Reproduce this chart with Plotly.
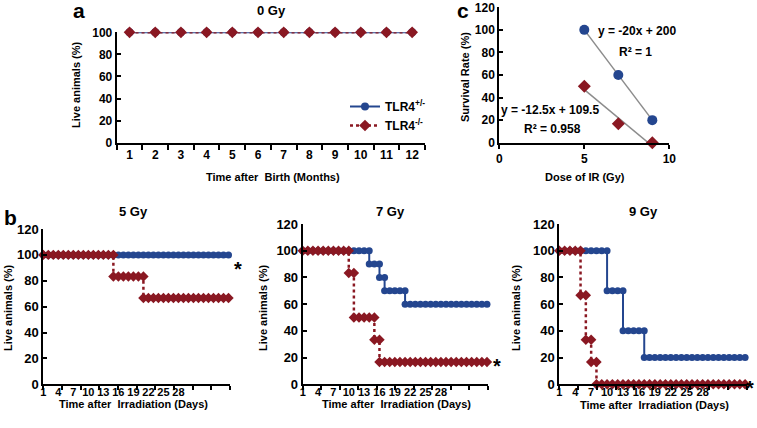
import plotly.graph_objects as go

BLUE = '#24468f'
RED = '#8a1822'
GRAY = '#8c8c8c'
FONT = 'Liberation Sans, Arial, sans-serif'
W, H = 757, 428

# ---- panel a: 0 Gy, live animals (%) by month after birth
months = ['1', '2', '3', '4', '5', '6', '7', '8', '9', '10', '11', '12']
live_0gy_het = [100, 100, 100, 100, 100, 100, 100, 100, 100, 100, 100, 100]
live_0gy_ko = [100, 100, 100, 100, 100, 100, 100, 100, 100, 100, 100, 100]

# ---- panel b: survival curves after irradiation (days, duplicated day at each drop)
day_ticks = [1, 4, 7, 10, 13, 16, 19, 22, 25, 28]

gy5_het_days = [1, 2, 3, 4, 5, 6, 7, 8, 9, 10, 11, 12, 13, 14, 15, 16, 17, 18, 19,
                20, 21, 22, 23, 24, 25, 26, 27, 28, 29, 30, 31, 32, 33, 34, 35, 36, 37, 38]
gy5_het_live = [100, 100, 100, 100, 100, 100, 100, 100, 100, 100, 100, 100, 100,
                100, 100, 100, 100, 100, 100, 100, 100, 100, 100, 100, 100, 100,
                100, 100, 100, 100, 100, 100, 100, 100, 100, 100, 100, 100]
gy5_ko_days = [1, 2, 3, 4, 5, 6, 7, 8, 9, 10, 11, 12, 13, 14, 15,
               15, 16, 17, 18, 19, 20, 21,
               21, 22, 23, 24, 25, 26, 27, 28, 29, 30, 31, 32, 33, 34, 35, 36, 37, 38]
gy5_ko_live = [100, 100, 100, 100, 100, 100, 100, 100, 100, 100, 100, 100, 100, 100, 100,
               83.3, 83.3, 83.3, 83.3, 83.3, 83.3, 83.3,
               66.7, 66.7, 66.7, 66.7, 66.7, 66.7, 66.7, 66.7, 66.7, 66.7, 66.7, 66.7,
               66.7, 66.7, 66.7, 66.7, 66.7, 66.7]

gy7_het_days = [1, 2, 3, 4, 5, 6, 7, 8, 9, 10, 11, 12, 13, 14,
                14, 15, 16,
                16, 17,
                17, 18, 19, 20, 21,
                21, 22, 23, 24, 25, 26, 27, 28, 29, 30, 31, 32, 33, 34, 35, 36, 37]
gy7_het_live = [100, 100, 100, 100, 100, 100, 100, 100, 100, 100, 100, 100, 100, 100,
                90, 90, 90,
                80, 80,
                70, 70, 70, 70, 70,
                60, 60, 60, 60, 60, 60, 60, 60, 60, 60, 60, 60, 60, 60, 60, 60, 60]
gy7_ko_days = [1, 2, 3, 4, 5, 6, 7, 8, 9, 10,
               10, 11,
               11, 12, 13, 14, 15,
               15, 16,
               16, 17, 18, 19, 20, 21, 22, 23, 24, 25, 26, 27, 28, 29, 30, 31, 32, 33,
               34, 35, 36, 37]
gy7_ko_live = [100, 100, 100, 100, 100, 100, 100, 100, 100, 100,
               83.3, 83.3,
               50, 50, 50, 50, 50,
               33.3, 33.3,
               16.7, 16.7, 16.7, 16.7, 16.7, 16.7, 16.7, 16.7, 16.7, 16.7, 16.7, 16.7,
               16.7, 16.7, 16.7, 16.7, 16.7, 16.7, 16.7, 16.7, 16.7, 16.7]

gy9_het_days = [1, 2, 3, 4, 5, 6, 7, 8, 9, 10,
                10, 11, 12, 13,
                13, 14, 15, 16, 17,
                17, 18, 19, 20, 21, 22, 23, 24, 25, 26, 27, 28, 29, 30, 31, 32, 33,
                34, 35, 36]
gy9_het_live = [100, 100, 100, 100, 100, 100, 100, 100, 100, 100,
                70, 70, 70, 70,
                40, 40, 40, 40, 40,
                20, 20, 20, 20, 20, 20, 20, 20, 20, 20, 20, 20, 20, 20, 20, 20, 20,
                20, 20, 20]
gy9_ko_days = [1, 2, 3, 4, 5,
               5, 6,
               6, 7,
               7, 8,
               8, 9, 10, 11, 12, 13, 14, 15, 16, 17, 18, 19, 20, 21, 22, 23, 24, 25,
               26, 27, 28, 29, 30, 31, 32, 33, 34, 35, 36]
gy9_ko_live = [100, 100, 100, 100, 100,
               66.7, 66.7,
               33.3, 33.3,
               16.7, 16.7,
               0, 0, 0, 0, 0, 0, 0, 0, 0, 0, 0, 0, 0, 0, 0, 0, 0, 0,
               0, 0, 0, 0, 0, 0, 0, 0, 0, 0, 0]

# ---- panel c: survival rate vs dose
dose = [5, 7, 9]
rate_het = [100, 60, 20]
rate_ko = [50, 16.7, 0]
fit_het = (-20, 200)      # y = -20x + 200
fit_ko = (-12.5, 109.5)   # y = -12.5x + 109.5


def px_x(px):
    return px / W


def px_y(py):
    return 1 - py / H


fig = go.Figure()


def het_trace(x, y, xa, ya, size=7, legend=False):
    return go.Scatter(x=x, y=y, xaxis=xa, yaxis=ya, mode='lines+markers',
                      name='TLR4<sup>+/-</sup>', showlegend=legend, cliponaxis=False,
                      line=dict(color=BLUE, width=2),
                      marker=dict(symbol='circle', size=size, color=BLUE))


def ko_trace(x, y, xa, ya, size=8, legend=False):
    return go.Scatter(x=x, y=y, xaxis=xa, yaxis=ya, mode='lines+markers',
                      name='TLR4<sup>-/-</sup>', showlegend=legend, cliponaxis=False,
                      line=dict(color=RED, width=2.5, dash='dot'),
                      marker=dict(symbol='diamond', size=size, color=RED))


# panel a
fig.add_trace(het_trace(months, live_0gy_het, 'x', 'y', size=8, legend=True))
fig.add_trace(ko_trace(months, live_0gy_ko, 'x', 'y', size=9, legend=True))

# panel b
fig.add_trace(het_trace(gy5_het_days, gy5_het_live, 'x3', 'y3'))
fig.add_trace(ko_trace(gy5_ko_days, gy5_ko_live, 'x3', 'y3'))
fig.add_trace(het_trace(gy7_het_days, gy7_het_live, 'x4', 'y4'))
fig.add_trace(ko_trace(gy7_ko_days, gy7_ko_live, 'x4', 'y4'))
fig.add_trace(het_trace(gy9_het_days, gy9_het_live, 'x5', 'y5'))
fig.add_trace(ko_trace(gy9_ko_days, gy9_ko_live, 'x5', 'y5'))

# panel c: trendlines then points
for (m, b) in (fit_het, fit_ko):
    xs = [dose[0], dose[-1]]
    fig.add_trace(go.Scatter(x=xs, y=[m * v + b for v in xs], xaxis='x2', yaxis='y2',
                             mode='lines', showlegend=False,
                             line=dict(color=GRAY, width=1.5)))
fig.add_trace(go.Scatter(x=dose, y=rate_het, xaxis='x2', yaxis='y2', mode='markers',
                         showlegend=False, cliponaxis=False,
                         marker=dict(symbol='circle', size=10, color=BLUE)))
fig.add_trace(go.Scatter(x=dose, y=rate_ko, xaxis='x2', yaxis='y2', mode='markers',
                         showlegend=False, cliponaxis=False,
                         marker=dict(symbol='diamond', size=10, color=RED)))

tick_font = dict(family=FONT, size=12, color='black', weight='bold')
axis_common = dict(showline=True, linecolor='black', linewidth=2, showgrid=False,
                   zeroline=False, tickfont=tick_font, tickcolor='black', tickwidth=1.5,
                   automargin=False, tickangle=0)

layout_axes = {}
layout_axes['xaxis'] = dict(axis_common, type='category', anchor='y',
                            domain=[px_x(116.7), px_x(425)], range=[-0.5, 11.5],
                            tickson='boundaries', ticks='outside', ticklen=5)
layout_axes['yaxis'] = dict(axis_common, anchor='x', domain=[px_y(142.7), px_y(32.3)],
                            range=[0, 100], dtick=20, ticks='inside', ticklen=4)

layout_axes['xaxis2'] = dict(axis_common, anchor='y2', domain=[px_x(499.3), px_x(669.3)],
                             range=[0, 10], tickvals=[0, 5, 10], ticks='outside', ticklen=4)
layout_axes['yaxis2'] = dict(axis_common, anchor='x2', domain=[px_y(142.7), px_y(7.3)],
                             range=[0, 120], dtick=20, ticks='inside', ticklen=4)

b_panels = [('3', 43.3, 230, 229, 38.3), ('4', 302.7, 488, 224, 37.2),
            ('5', 559.3, 746.7, 224, 36.3)]
for n, x0, x1, ytop, xmax in b_panels:
    layout_axes['xaxis' + n] = dict(axis_common, anchor='y' + n,
                                    domain=[px_x(x0), px_x(x1)], range=[1, xmax],
                                    tickvals=day_ticks, ticks='', ticklabelstandoff=-4,
                                    tickfont=dict(tick_font, size=11),
                                    minor=dict(tick0=1, dtick=(xmax - 1) / 10, ticks='outside',
                                               ticklen=4, tickcolor='black', tickwidth=1.5))
    layout_axes['yaxis' + n] = dict(axis_common, anchor='x' + n,
                                    domain=[px_y(384.3), px_y(ytop)], range=[0, 120],
                                    dtick=20, ticks='inside', ticklen=4,
                                    tickfont=dict(tick_font, size=13))

annotations = []


def add_text(px, py, text, size, angle=0, xanchor='center'):
    annotations.append(dict(x=px_x(px), y=px_y(py), xref='paper', yref='paper',
                            text=text, showarrow=False, textangle=angle,
                            xanchor=xanchor, yanchor='middle',
                            font=dict(family=FONT, size=size, color='black', weight='bold')))


# panel letters and titles
add_text(79, 11, 'a', 21)
add_text(10, 217, 'b', 21)
add_text(463, 11, 'c', 21)
add_text(271, 11, '0 Gy', 13)
add_text(133, 212, '5 Gy', 13)
add_text(390, 212, '7 Gy', 13)
add_text(643, 212, '9 Gy', 13)

# axis titles
add_text(273, 177, 'Time after  Birth (Months)', 11)
add_text(76, 85, 'Live animals (%)', 11, angle=-90)
add_text(585, 177, 'Dose of IR (Gy)', 11)
add_text(465, 77, 'Survival Rate (%)', 11, angle=-90)
for cx, ty, yx in ((133, 404, 8), (396, 404, 263), (654, 405, 516)):
    add_text(cx, ty, 'Time after  Irradiation (Days)', 11)
    add_text(yx, 308, 'Live animals (%)', 11, angle=-90)

# trendline labels
add_text(637, 31, 'y = -20x + 200', 12)
add_text(635, 52, 'R² = 1', 12)
add_text(550, 110, 'y = -12.5x + 109.5', 12)
add_text(552, 129, 'R² = 0.958', 12)

# significance marks
add_text(238, 269, '*', 20)
add_text(497, 366, '*', 20)
add_text(750, 388, '*', 20)

fig.update_layout(
    width=W, height=H,
    margin=dict(l=0, r=0, t=0, b=0),
    paper_bgcolor='white', plot_bgcolor='white',
    font=dict(family=FONT, color='black'),
    legend=dict(x=px_x(431), xanchor='right', y=px_y(92), yanchor='top',
                bgcolor='rgba(0,0,0,0)', tracegroupgap=0, itemwidth=30,
                font=dict(family=FONT, size=12, color='black', weight='bold')),
    annotations=annotations,
    **layout_axes,
)

# the page body has a default margin; drop it so the figure sits at the window corner
fig.write_html('out.html', config={'displayModeBar': False},
               post_script="document.body.style.margin='0px';")
